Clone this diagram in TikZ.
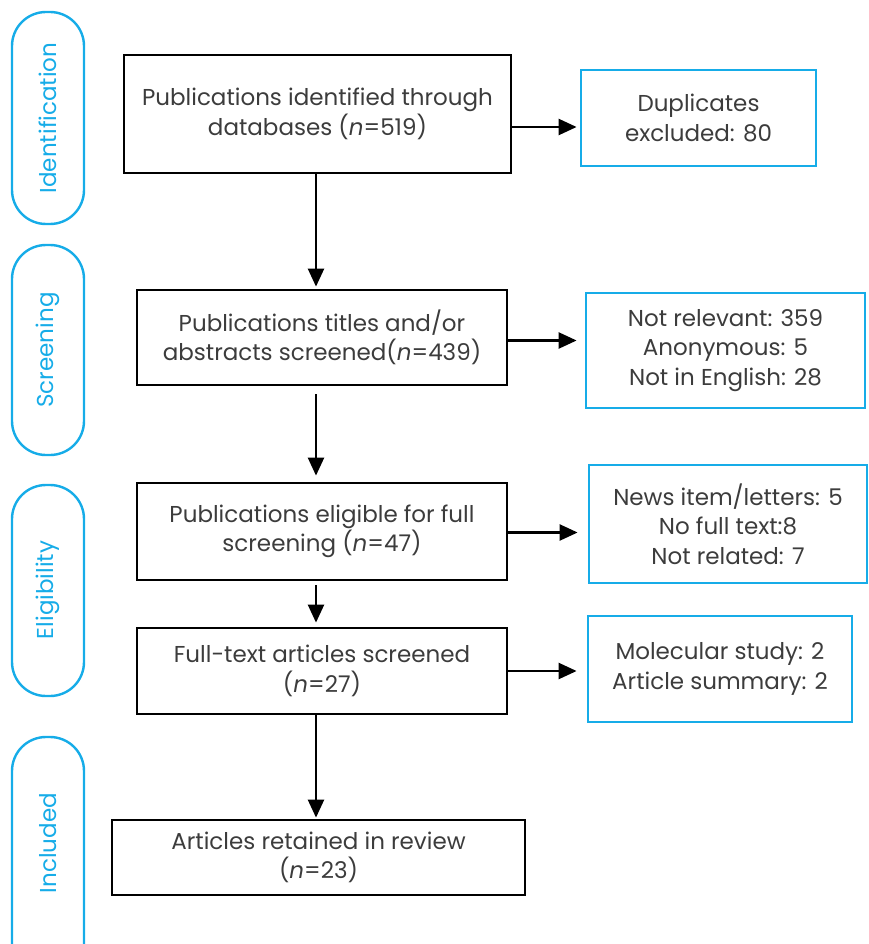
\documentclass[tikz,border=0pt]{standalone}
\usepackage{fontspec}
\setmainfont{Poppins}
\usetikzlibrary{arrows.meta, calc, positioning}
\definecolor{phaseblue}{RGB}{22,172,232}
\definecolor{textgray}{RGB}{60,60,60}

\begin{document}
\begin{tikzpicture}[x=1pt,y=-1pt,align=center,font=\fontsize{23}{29.5}\selectfont,text=textgray]
\tikzstyle{stage}=[draw=black,line width=2.8pt,inner sep=0pt]
\tikzstyle{excluded}=[draw=phaseblue,line width=2.8pt,inner sep=0pt]
\tikzstyle{phase}=[draw=phaseblue,line width=2.4pt,rounded corners=34pt,minimum width=72pt,inner sep=0pt]
\tikzstyle{flow}=[-{Triangle[length=18pt,width=16pt]},line width=2.4pt,black]

\useasboundingbox (0,0) rectangle (869,944);

% phases on the left
\draw[phase] (12,12) rectangle (84,224);
\draw[phase] (12,245) rectangle (84,455);
\draw[phase] (12,485) rectangle (84,696);
\draw[phase] (12,737) rectangle (84,980);
\node[rotate=90,text=phaseblue] (ident) at (48,118) {Identification};
\node[rotate=90,text=phaseblue] (screen) at (48,350) {Screening};
\node[rotate=90,text=phaseblue] (elig) at (48,590) {Eligibility};
\node[rotate=90,text=phaseblue] (incl) at (48,843) {Included};

% main column
\node[stage,minimum width=387pt,minimum height=118pt] (found) at (317.5,114) {Publications identified through\\databases (\textit{n}=519)};
\node[stage,minimum width=370pt,minimum height=95pt] (titles) at (322,337.5) {Publications titles and/or\\abstracts screened(\textit{n}=439)};
\node[stage,minimum width=370pt,minimum height=97pt] (eligible) at (322,531.5) {Publications eligible for full\\screening (\textit{n}=47)};
\node[stage,minimum width=370pt,minimum height=86pt] (fulltext) at (322,671) {Full-text articles screened\\(\textit{n}=27)};
\node[stage,minimum width=413pt,minimum height=75pt] (retained) at (318.5,857.5) {Articles retained in review\\(\textit{n}=23)};

% exclusions
\node[excluded,minimum width=235pt,minimum height=96pt] (dup) at (698.5,118) {Duplicates\\excluded: 80};
\node[excluded,minimum width=279pt,minimum height=115pt] (notrel) at (725.5,350.5) {Not relevant: 359\\Anonymous: 5\\Not in English: 28};
\node[excluded,minimum width=278pt,minimum height=118pt] (news) at (728,524) {News item/letters: 5\\No full text:8\\Not related: 7};
\node[excluded,minimum width=264pt,minimum height=106pt] (mol) at (720,669) {Molecular study: 2\\Article summary: 2};

% downward flow
\draw[flow] (found.south -| 316,0) -- ([yshift=2pt]titles.north -| 316,0);
\draw[flow] ([yshift=-8pt]titles.south -| 316,0) -- ([yshift=6pt]eligible.north -| 316,0);
\draw[flow] ([yshift=-4pt]eligible.south -| 316,0) -- ([yshift=4pt]fulltext.north -| 316,0);
\draw[flow] (fulltext.south -| 316,0) -- ([yshift=1pt]retained.north -| 316,0);

% sideways flow
\draw[flow] ([yshift=-13pt]found.east) -- ([yshift=-13pt,xshift=-3pt]found.east -| dup.west);
\draw[flow] ([yshift=-3pt]titles.east) -- ([yshift=-3pt,xshift=-8pt]titles.east -| notrel.west);
\draw[flow] ([yshift=-1pt]eligible.east) -- ([yshift=-1pt,xshift=-10pt]eligible.east -| news.west);
\draw[flow] (fulltext.east) -- ([xshift=-10pt]fulltext.east -| mol.west);
\end{tikzpicture}
\end{document}
